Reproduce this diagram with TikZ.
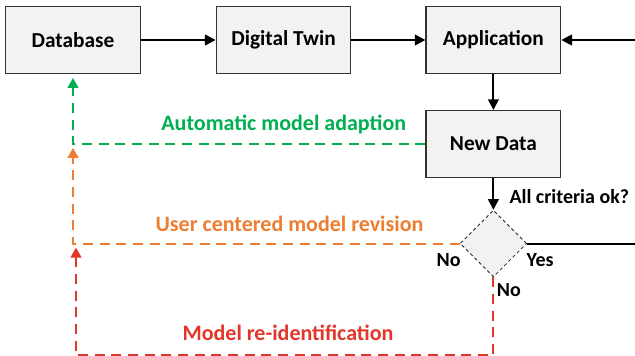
\documentclass[tikz,border=0pt]{standalone}
\usepackage{fontspec}
\setmainfont{Carlito}
\usetikzlibrary{shapes.geometric, arrows.meta, positioning}
\definecolor{boxgray}{RGB}{242,242,242}
\definecolor{adaptgreen}{RGB}{0,176,80}
\definecolor{reviseorange}{RGB}{237,125,49}
\definecolor{reidred}{RGB}{226,54,43}
\tikzset{
  block/.style={rectangle, minimum width=101pt, minimum height=50pt, text centered, draw=black!80, line width=0.9pt, fill=boxgray, font=\fontsize{16}{19}\selectfont\bfseries},
  check/.style={diamond, aspect=1, minimum width=50pt, minimum height=50pt, inner sep=0pt, draw=black!85, line width=0.6pt, dash pattern=on 2.5pt off 2pt, fill=boxgray},
  lbl/.style={font=\fontsize{15}{18}\selectfont\bfseries, anchor=base},
  flowlbl/.style={font=\fontsize{16.5}{19}\selectfont\bfseries, anchor=base},
  arrow/.style={line width=1.5pt, ->, >={Triangle[length=8pt,width=8pt]}},
  loopback/.style={line width=1.5pt, dash pattern=on 7.5pt off 5pt, ->, >={Triangle[length=7.5pt,width=8pt]}, shorten >=3pt}
}
\begin{document}
\begin{tikzpicture}[x=0.75pt, y=-0.75pt]

  \useasboundingbox (0,0) rectangle (635,356);
  \coordinate (rim) at (635,0);

  \node (db) [block] at (73,40) {Database};
  \node (dt) [block, right=56pt of db] {Digital Twin};
  \node (app) [block, right=55.5pt of dt] {Application};
  \node (nd) [block, below=27pt of app] {New Data};
  \node (crit) [check, below=24pt of nd] {};

  \coordinate (adapt) at (nd.west -| db.south);
  \coordinate (revise) at (crit.west -| db.south);

  \draw [arrow] (db) -- (dt);
  \draw [arrow] (dt) -- (app);
  \draw [arrow] (app -| rim) -- (app);
  \draw [arrow] (app) -- (nd);
  \draw [arrow] (nd) -- node[lbl, pos=0.8, anchor=base west, xshift=8pt] {All criteria ok?} (crit);
  \draw [line width=1.5pt] (crit.east) -- (crit -| rim);

  \draw [loopback, adaptgreen] (nd.west) -| node[flowlbl, pos=0.201, yshift=9.75pt] {Automatic model adaption} (db.south);
  \draw [loopback, reviseorange] (crit.west) -| node[flowlbl, pos=0.22, yshift=9pt] {User centered model revision} (adapt);
  \draw [loopback, reidred] (crit.south) -- ++(0,78) -| node[flowlbl, pos=0.246, yshift=11.25pt] {Model re-identification} ([xshift=2.25pt]revise);

  \node (nol) [lbl] at ([shift={(-11,23)}]crit.west) {No};
  \node (yes) [lbl] at ([shift={(13,23)}]crit.east) {Yes};
  \node (nob) [lbl] at ([shift={(15.5,19)}]crit.south) {No};

\end{tikzpicture}
\end{document}
